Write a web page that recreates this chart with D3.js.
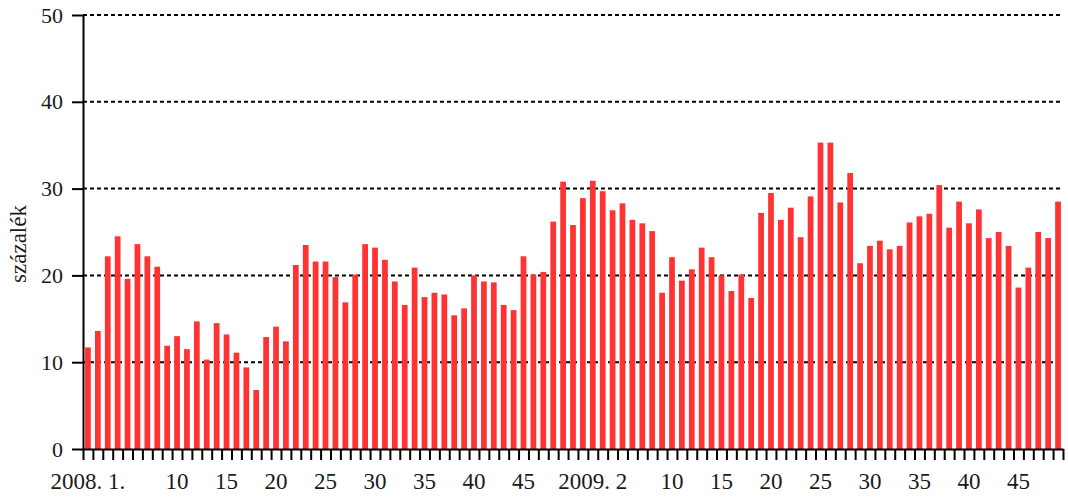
<!DOCTYPE html>
<html>
<head>
<meta charset="utf-8">
<script src="https://cdn.jsdelivr.net/npm/d3@7"></script>
<style>
  body { margin: 0; background: #fff; }
</style>
</head>
<body>
<div class="container"></div>
<script>
// weekly values, 2008 week 1 .. 2009 week 49
const values2008 = [11.7, 13.6, 22.2, 24.5, 19.6, 23.6, 22.2, 21.0, 11.9, 13.0,
  11.5, 14.7, 10.3, 14.5, 13.2, 11.1, 9.4, 6.8, 12.9, 14.1,
  12.4, 21.2, 23.5, 21.6, 21.6, 19.8, 16.9, 20.1, 23.6, 23.2,
  21.8, 19.3, 16.6, 20.9, 17.5, 18.0, 17.8, 15.4, 16.2, 20.0,
  19.3, 19.2, 16.6, 16.0, 22.2, 20.1, 20.4, 26.2, 30.8, 25.8]
const values2009 = [28.9, 30.9, 29.7, 27.5, 28.3, 26.4, 26.0, 25.1, 18.0, 22.1,
  19.4, 20.7, 23.2, 22.1, 20.0, 18.2, 20.1, 17.4, 27.2, 29.5,
  26.4, 27.8, 24.4, 29.1, 35.3, 35.3, 28.4, 31.8, 21.4, 23.4,
  24.0, 23.0, 23.4, 26.1, 26.8, 27.1, 30.4, 25.5, 28.5, 26.0,
  27.6, 24.3, 25.0, 23.4, 18.6, 20.9, 25.0, 24.3, 28.5]

// bar numbers (1-based) that carry a label, and the label text
const tickBars = [1, 10, 15, 20, 25, 30, 35, 40, 45, 52, 60, 65, 70, 75, 80, 85, 90, 95]
const tickLabels = ["2008. 1.", "10", "15", "20", "25", "30", "35", "40", "45",
  "2009. 2", "10", "15", "20", "25", "30", "35", "40", "45"]
const yTicks = [0, 10, 20, 30, 40, 50]

const data = []
values2008.forEach((v, i) => data.push({ key: "2008-" + (i + 1), value: v }))
values2009.forEach((v, i) => data.push({ key: "2009-" + (i + 1), value: v }))

const w = 1068
const h = 497
const plotLeft = 83, plotRight = 1063, plotTop = 15, plotBottom = 449
const serif = '"Liberation Serif", "DejaVu Serif", serif'

const svg = d3.select(".container")
  .append("svg")
  .attr("width", w)
  .attr("height", h)

const xScale = d3.scaleBand().domain(data.map(d => d.key)).range([plotLeft, plotRight]).paddingInner(0.42).paddingOuter(0.21)
const xEdge = d3.scaleLinear().domain([0, data.length]).range([plotLeft, plotRight])
const yScale = d3.scaleLinear().domain([0, 50]).range([plotBottom, plotTop])

// dotted grid
svg.append("g")
  .selectAll("line")
  .data(yTicks.filter(t => t > 0))
  .enter()
  .append("line")
  .attr("x1", plotLeft)
  .attr("x2", plotRight)
  .attr("y1", d => yScale(d))
  .attr("y2", d => yScale(d))
  .attr("stroke", "#000")
  .attr("stroke-width", 2)
  .attr("stroke-dasharray", "4,3")

// bars
svg.append("g")
  .selectAll("rect")
  .data(data)
  .enter()
  .append("rect")
  .attr("x", d => xScale(d.key))
  .attr("width", xScale.bandwidth())
  .attr("y", d => yScale(d.value))
  .attr("height", d => plotBottom - yScale(d.value))
  .attr("fill", "#ff3333")

// y axis
const yAxis = d3.axisLeft(yScale).tickValues(yTicks).tickSize(11).tickPadding(9).tickSizeOuter(0)
const gy = svg.append("g")
  .attr("transform", "translate(" + plotLeft + ",0)")
  .call(yAxis)
gy.select(".domain").attr("stroke-width", 2)
gy.selectAll(".tick line").attr("stroke-width", 2)
gy.selectAll(".tick text")
  .style("font-family", serif)
  .style("font-size", "22px")
  .attr("fill", "#1a1a1a")

// x axis: small ticks on every bar boundary
const xTickAxis = d3.axisBottom(xEdge).tickValues(d3.range(0, data.length + 1)).tickSize(11).tickFormat("").tickSizeOuter(0)
const gx = svg.append("g")
  .attr("transform", "translate(0," + plotBottom + ")")
  .call(xTickAxis)
gx.select(".domain").attr("stroke-width", 2)
gx.selectAll(".tick line").attr("stroke-width", 2)

// x labels under the chosen bars
const xLabelAxis = d3.axisBottom(xScale)
  .tickValues(tickBars.map(b => data[b - 1].key))
  .tickFormat((d, i) => tickLabels[i])
  .tickSize(0)
const gl = svg.append("g")
  .attr("transform", "translate(0," + plotBottom + ")")
  .call(xLabelAxis)
gl.select(".domain").remove()
gl.selectAll(".tick text")
  .attr("y", 40)
  .attr("dy", 0)
  .style("font-family", serif)
  .style("font-size", "23px")
  .attr("fill", "#1a1a1a")

svg.append("text")
  .attr("transform", "rotate(-90)")
  .attr("x", -244)
  .attr("y", 26)
  .style("text-anchor", "middle")
  .style("font-family", serif)
  .style("font-size", "23px")
  .attr("fill", "#1a1a1a")
  .text("százalék")
</script>
</body>
</html>
